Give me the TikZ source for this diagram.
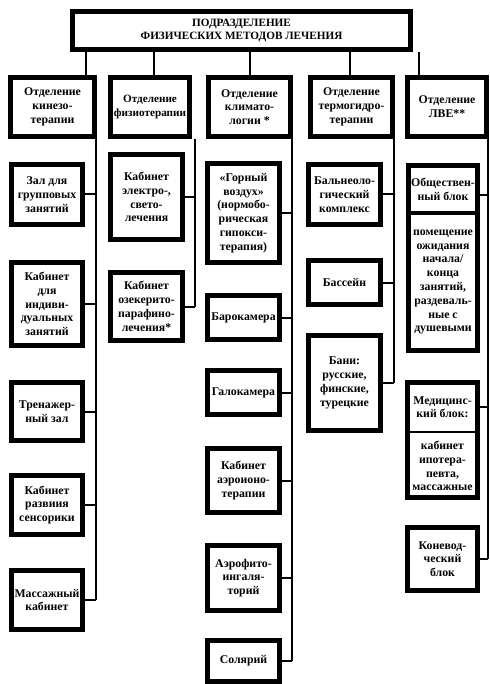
\documentclass[tikz,border=0pt]{standalone}
\usepackage{fontspec}
\setmainfont{Liberation Serif}
\begin{document}
\begin{tikzpicture}[x=1pt,y=-1pt,
  boxfont/.style={font=\bfseries\fontsize{11.8}{13.8}\selectfont},
  box/.style={draw, line width=5pt, outer sep=2.5pt, inner sep=1pt,
    align=center, anchor=north west, fill=white, boxfont},
  part/.style={inner sep=0pt, outer sep=0pt, align=center, boxfont},
  link/.style={line width=2pt},
  thickrule/.style={line width=4pt},
  thinrule/.style={line width=1.2pt}]

\fill[white, use as bounding box] (0,0) rectangle (489,684);

% head of the structure
\node[box, minimum width=338pt, minimum height=38pt,
  font=\bfseries\fontsize{11.2}{12.6}\selectfont] (top) at (70,9)
  {ПОДРАЗДЕЛЕНИЕ\\ФИЗИЧЕСКИХ МЕТОДОВ ЛЕЧЕНИЯ};

% departments
\node[box, minimum width=84pt, minimum height=59pt] (k1) at (8,75)
  {Отделение\\кинезо-\\терапии};
\node[box, minimum width=79pt, minimum height=59pt, inner sep=0pt,
  font=\bfseries\fontsize{11.2}{13.8}\selectfont] (k2) at (108,75)
  {Отделение\\физиотерапии};
\node[box, minimum width=82pt, minimum height=59pt] (k3) at (206,75)
  {Отделение\\климато-\\логии *};
\node[box, minimum width=82pt, minimum height=59pt] (k4) at (308,75)
  {Отделение\\термогидро-\\терапии};
\node[box, minimum width=79pt, minimum height=59pt] (k5) at (405,75)
  {Отделение\\ЛВЕ**};

% kinesitherapy
\node[box, minimum width=71pt, minimum height=60pt] (a1) at (9,162)
  {Зал для\\групповых\\занятий};
\node[box, minimum width=71pt, minimum height=83pt] (a2) at (9,260)
  {Кабинет\\для\\индиви-\\дуальных\\занятий};
\node[box, minimum width=71pt, minimum height=58pt] (a3) at (9,380)
  {Тренажер-\\ный зал};
\node[box, minimum width=71pt, minimum height=59pt] (a4) at (9,473)
  {Кабинет\\развиия\\сенсорики};
\node[box, minimum width=71pt, minimum height=59pt] (a5) at (9,568)
  {Массажный\\кабинет};

% physiotherapy
\node[box, minimum width=72pt, minimum height=85pt] (b1) at (108,152)
  {Кабинет\\электро-,\\свето-\\лечения};
\node[box, minimum width=72pt, minimum height=68pt] (b2) at (108,270)
  {Кабинет\\озекерито-\\парафино-\\лечения*};

% climatology
\node[box, minimum width=72pt, minimum height=99pt] (c1) at (205,161)
  {«Горный\\воздух»\\(нормобо-\\рическая\\гипокси-\\терапия)};
\node[box, minimum width=72pt, minimum height=44pt] (c2) at (205,293)
  {Барокамера};
\node[box, minimum width=72pt, minimum height=44pt] (c3) at (205,368)
  {Галокамера};
\node[box, minimum width=72pt, minimum height=64pt] (c4) at (205,446)
  {Кабинет\\аэроионо-\\терапии};
\node[box, minimum width=72pt, minimum height=65pt] (c5) at (205,543)
  {Аэрофито-\\ингаля-\\торий};
\node[box, minimum width=72pt, minimum height=41pt] (c6) at (205,638)
  {Солярий};

% thermo-hydrotherapy
\node[box, minimum width=72pt, minimum height=60pt] (d1) at (306,162)
  {Бальнеоло-\\гический\\комплекс};
\node[box, minimum width=72pt, minimum height=44pt] (d2) at (306,258)
  {Бассейн};
\node[box, minimum width=72pt, minimum height=95pt] (d3) at (306,333)
  {Бани:\\русские,\\финские,\\турецкие};

% ЛВЕ blocks
\node[box, minimum width=69pt, minimum height=185pt] (e1) at (406,163) {};
\node[part, anchor=north west, minimum width=69pt, minimum height=47.5pt]
  (e1h) at (408.5,165.5) {Обществен-\\ный блок};
\node[part] (e1b) at (443,282)
  {помещение\\ожидания\\начала/\\конца\\занятий,\\раздеваль-\\ные с\\душевыми};
\draw[thickrule] (e1h.south west) -- (e1h.south east);

\node[box, minimum width=70pt, minimum height=115pt] (e2) at (405,380) {};
\node[part, anchor=north west, minimum width=70pt, minimum height=49.5pt]
  (e2h) at (407.5,382.5) {Медицинс-\\кий блок:};
\node[part] (e2b) at (442.5,466)
  {кабинет\\ипотера-\\певта,\\массажные};
\draw[thinrule] (e2h.south west) -- (e2h.south east);

\node[box, minimum width=70pt, minimum height=63pt] (e3) at (405,525)
  {Коневод-\\ческий\\блок};

% drops from the head to the departments
\coordinate (t1) at (86,0);
\coordinate (t2) at (154,0);
\coordinate (t3) at (250,0);
\coordinate (t4) at (350,0);
\coordinate (t5) at (419,0);
\foreach \i in {1,...,5}
  \draw[link] (top.south -| t\i) -- (k\i.north -| t\i);

% spines under the departments
\coordinate (s1) at (96,139);
\coordinate (s2) at (195,139);
\coordinate (s3) at (292,139);
\coordinate (s4) at (394,139);
\coordinate (s5) at (488,139);

\draw[link] (s1) -- (s1 |- a5.east);
\foreach \n in {a1,a2,a3,a4,a5}
  \draw[link] (\n.east) -- (\n.east -| s1);

\draw[link] (s2) -- (s2 |- b2.east);
\foreach \n in {b1,b2}
  \draw[link] (\n.east) -- (\n.east -| s2);

\draw[link] (s3) -- (s3 |- c6.east);
\foreach \n in {c1,c2,c3,c4,c5,c6}
  \draw[link] (\n.east) -- (\n.east -| s3);

\draw[link] (s4) -- (s4 |- d3.east);
\foreach \n in {d1,d2,d3}
  \draw[link] (\n.east) -- (\n.east -| s4);

\draw[link] (s5) -- (s5 |- e3.east);
\draw[link] ([yshift=-6pt]e1h.east -| e1.east) -- ([yshift=-6pt]e1h.east -| s5);
\draw[link] (e2h.east -| e2.east) -- (e2h.east -| s5);
\draw[link] (e3.east) -- (e3.east -| s5);

\end{tikzpicture}
\end{document}
